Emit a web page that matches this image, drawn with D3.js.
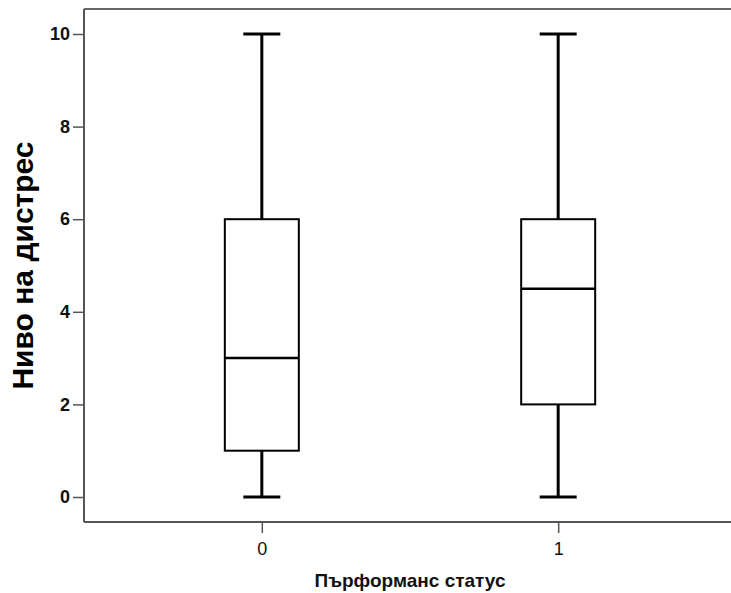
<!DOCTYPE html>
<html><head><meta charset="utf-8">
<script src="https://cdn.jsdelivr.net/npm/d3@7"></script>
<style>body{margin:0;background:#fff}svg{display:block;font-family:Arial,"Liberation Sans",sans-serif}</style>
</head><body>
<svg id="c" width="731" height="593"></svg>
<script>
const categories = ["0", "1"];
const mins = [0, 0];
const q1s = [1, 2];
const medians = [3, 4.5];
const q3s = [6, 6];
const maxs = [10, 10];
const yTicks = [0, 2, 4, 6, 8, 10];
const yTitle = "Ниво на дистрес";
const xTitle = "Пърформанс статус";

const svg = d3.select("#c");
const mLeft = 84, mTop = 9, mBottom = 522, mRight = 736;
const x = d3.scalePoint().domain(categories).range([mLeft, mRight]).padding(0.6);
const y = d3.scaleLinear().domain([-0.54, 10.54]).range([mBottom, mTop]);
const boxW = 74, capW = 37;

const data = categories.map((c, i) => ({c, min: mins[i], q1: q1s[i], med: medians[i], q3: q3s[i], max: maxs[i]}));

svg.append("line").attr("x1", mLeft).attr("x2", 731).attr("y1", mTop).attr("y2", mTop)
  .attr("stroke", "#666").attr("stroke-width", 2);

const gy = svg.append("g").attr("transform", `translate(${mLeft},0)`)
  .call(d3.axisLeft(y).tickValues(yTicks).tickSize(11).tickPadding(3).tickFormat(d3.format("d")));
gy.select(".domain").attr("stroke", "#555").attr("stroke-width", 2).attr("d", `M0,${mTop}V${mBottom}`);
gy.selectAll(".tick line").attr("stroke", "#555").attr("stroke-width", 1.5);
gy.selectAll(".tick text").attr("font-size", 18).attr("font-weight", "bold").attr("fill", "#111")
  .attr("font-family", "Arial, 'Liberation Sans', sans-serif");

const gx = svg.append("g").attr("transform", `translate(0,${mBottom})`)
  .call(d3.axisBottom(x).tickSize(11).tickPadding(9));
gx.select(".domain").attr("stroke", "#555").attr("stroke-width", 2).attr("d", `M${mLeft},0H731`);
gx.selectAll(".tick line").attr("stroke", "#555").attr("stroke-width", 1.5);
gx.selectAll(".tick text").attr("font-size", 18).attr("fill", "#111")
  .attr("font-family", "Arial, 'Liberation Sans', sans-serif");

const g = svg.append("g");
const b = g.selectAll("g.box").data(data).join("g").attr("class", "box");
b.append("line").attr("x1", d => x(d.c)).attr("x2", d => x(d.c)).attr("y1", d => y(d.max)).attr("y2", d => y(d.q3))
  .attr("stroke", "#000").attr("stroke-width", 3);
b.append("line").attr("x1", d => x(d.c)).attr("x2", d => x(d.c)).attr("y1", d => y(d.q1)).attr("y2", d => y(d.min))
  .attr("stroke", "#000").attr("stroke-width", 3);
b.append("line").attr("x1", d => x(d.c) - capW / 2).attr("x2", d => x(d.c) + capW / 2).attr("y1", d => y(d.max)).attr("y2", d => y(d.max))
  .attr("stroke", "#000").attr("stroke-width", 3);
b.append("line").attr("x1", d => x(d.c) - capW / 2).attr("x2", d => x(d.c) + capW / 2).attr("y1", d => y(d.min)).attr("y2", d => y(d.min))
  .attr("stroke", "#000").attr("stroke-width", 3);
b.append("rect").attr("x", d => x(d.c) - boxW / 2).attr("width", boxW)
  .attr("y", d => y(d.q3)).attr("height", d => y(d.q1) - y(d.q3))
  .attr("fill", "#fff").attr("stroke", "#000").attr("stroke-width", 2);
b.append("line").attr("x1", d => x(d.c) - boxW / 2).attr("x2", d => x(d.c) + boxW / 2).attr("y1", d => y(d.med)).attr("y2", d => y(d.med))
  .attr("stroke", "#000").attr("stroke-width", 2.5);

svg.append("text").attr("transform", `translate(33,${(mTop + mBottom) / 2}) rotate(-90)`)
  .attr("text-anchor", "middle").attr("font-size", 30).attr("font-weight", "bold").attr("fill", "#000")
  .text(yTitle);
svg.append("text").attr("x", (mLeft + mRight) / 2).attr("y", 587)
  .attr("text-anchor", "middle").attr("font-size", 19).attr("font-weight", "bold").attr("fill", "#111")
  .text(xTitle);
</script>
</body></html>
